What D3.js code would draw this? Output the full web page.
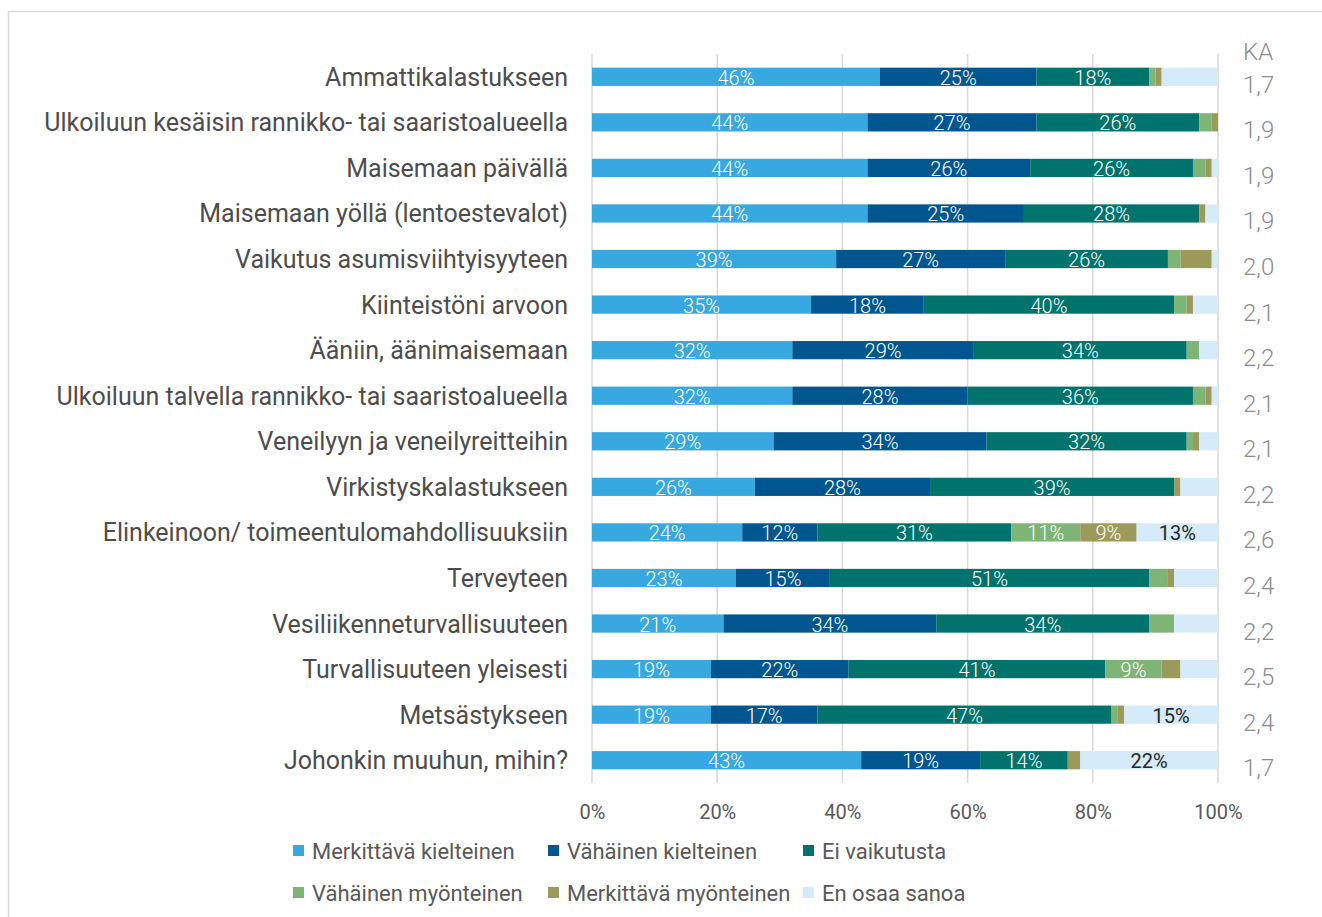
<!DOCTYPE html>
<html>
<head>
<meta charset="utf-8">
<script src="https://cdn.jsdelivr.net/npm/d3@7"></script>
<style>
  body { margin: 0; background: #fff; }
  text { font-family: Roboto, "Noto Sans", sans-serif; }
</style>
</head>
<body>
<div id="chart"></div>
<script>
// categories (top to bottom)
var categories = [
  "Ammattikalastukseen",
  "Ulkoiluun kesäisin rannikko- tai saaristoalueella",
  "Maisemaan päivällä",
  "Maisemaan yöllä (lentoestevalot)",
  "Vaikutus asumisviihtyisyyteen",
  "Kiinteistöni arvoon",
  "Ääniin, äänimaisemaan",
  "Ulkoiluun talvella rannikko- tai saaristoalueella",
  "Veneilyyn ja veneilyreitteihin",
  "Virkistyskalastukseen",
  "Elinkeinoon/ toimeentulomahdollisuuksiin",
  "Terveyteen",
  "Vesiliikenneturvallisuuteen",
  "Turvallisuuteen yleisesti",
  "Metsästykseen",
  "Johonkin muuhun, mihin?"
];

// series values (%)
var merkittavaKielteinen = [46, 44, 44, 44, 39, 35, 32, 32, 29, 26, 24, 23, 21, 19, 19, 43];
var vahainenKielteinen   = [25, 27, 26, 25, 27, 18, 29, 28, 34, 28, 12, 15, 34, 22, 17, 19];
var eiVaikutusta         = [18, 26, 26, 28, 26, 40, 34, 36, 32, 39, 31, 51, 34, 41, 47, 14];
var vahainenMyonteinen   = [1, 2, 2, 0, 2, 2, 2, 2, 1, 0, 11, 3, 4, 9, 1, 0];
var merkittavaMyonteinen = [1, 1, 1, 1, 5, 1, 0, 1, 1, 1, 9, 1, 0, 3, 1, 2];
var enOsaaSanoa          = [9, 0, 1, 2, 1, 4, 3, 1, 3, 6, 13, 7, 7, 6, 15, 22];

// keskiarvo column
var ka = [1.7, 1.9, 1.9, 1.9, 2.0, 2.1, 2.2, 2.1, 2.1, 2.2, 2.6, 2.4, 2.2, 2.5, 2.4, 1.7];

// x tick values
var xTicks = [0, 20, 40, 60, 80, 100];

var seriesNames = ["Merkittävä kielteinen", "Vähäinen kielteinen", "Ei vaikutusta",
  "Vähäinen myönteinen", "Merkittävä myönteinen", "En osaa sanoa"];
var seriesValues = [merkittavaKielteinen, vahainenKielteinen, eiVaikutusta,
  vahainenMyonteinen, merkittavaMyonteinen, enOsaaSanoa];
var colors = ["#37a8e0", "#00568f", "#00736c", "#7fb477", "#9c9a5b", "#d5ebf9"];

// build table rows for the stack
var table = categories.map(function(c, i) {
  var row = { category: c };
  seriesNames.forEach(function(s, j) { row[s] = seriesValues[j][i]; });
  return row;
});

var svgWidth = 1322;
var svgHeight = 917;

var svg = d3.select("#chart")
  .append("svg")
  .attr("width", svgWidth)
  .attr("height", svgHeight);

// light frame
svg.append("rect")
  .attr("x", 8.5)
  .attr("y", 11.5)
  .attr("width", svgWidth)
  .attr("height", svgHeight)
  .attr("fill", "none")
  .attr("stroke", "#d9d9d9")
  .attr("stroke-width", 1.5);

var x = d3.scaleLinear()
  .domain([0, 100])
  .range([592, 1218]);

var y = d3.scaleBand()
  .domain(categories)
  .range([54, 783])
  .paddingInner(0.6)
  .paddingOuter(0.3);

// gridlines
svg.append("g")
  .selectAll("line")
  .data(xTicks)
  .enter()
  .append("line")
  .attr("x1", d => x(d))
  .attr("x2", d => x(d))
  .attr("y1", 54)
  .attr("y2", 783)
  .attr("stroke", "#d9d9d9")
  .attr("stroke-width", 1.5);

// x axis labels
var xAxis = svg.append("g")
  .attr("transform", "translate(0, 796)")
  .call(d3.axisBottom(x).tickValues(xTicks).tickSize(0).tickFormat(d => d + "%"));
xAxis.select(".domain").remove();
xAxis.selectAll("text")
  .attr("dy", "1em")
  .attr("fill", "#595959")
  .style("font-size", "20px")
  .style("font-family", "Roboto, sans-serif");

// stacked bars
var stack = d3.stack().keys(seriesNames);
var stacked = stack(table);

var layers = svg.append("g")
  .selectAll("g")
  .data(stacked)
  .enter()
  .append("g")
  .attr("fill", (d, i) => colors[i]);

layers.selectAll("rect")
  .data(d => d)
  .enter()
  .append("rect")
  .attr("x", d => x(d[0]))
  .attr("y", d => y(d.data.category))
  .attr("width", d => x(d[1]) - x(d[0]))
  .attr("height", y.bandwidth());

// segment labels
layers.each(function(layer, i) {
  d3.select(this).selectAll("text")
    .data(layer.filter(function(d) {
      var v = d[1] - d[0];
      return i === 5 ? v >= 10 : v >= 9;
    }))
    .enter()
    .append("text")
    .attr("x", d => (x(d[0]) + x(d[1])) / 2)
    .attr("y", d => y(d.data.category) + y.bandwidth() / 2 + 8)
    .attr("text-anchor", "middle")
    .attr("fill", i === 5 ? "#262626" : "#ffffff")
    .style("font-size", "20px")
    .style("font-weight", i === 5 ? 400 : 300)
    .text(d => (d[1] - d[0]) + "%");
});

// category labels
svg.append("g")
  .selectAll("text")
  .data(categories)
  .enter()
  .append("text")
  .attr("x", 568)
  .attr("y", d => y(d) + y.bandwidth() / 2 + 9)
  .attr("text-anchor", "end")
  .attr("fill", "#4d4d4d")
  .style("font-size", "25px")
  .text(d => d);

// KA column
svg.append("text")
  .attr("x", 1243)
  .attr("y", 60)
  .attr("fill", "#8c8c8c")
  .style("font-size", "24px")
  .style("font-weight", 300)
  .text("KA");

svg.append("g")
  .selectAll("text")
  .data(ka)
  .enter()
  .append("text")
  .attr("x", 1243)
  .attr("y", (d, i) => y(categories[i]) + y.bandwidth() / 2 + 16)
  .attr("fill", "#8c8c8c")
  .style("font-size", "24px")
  .style("font-weight", 300)
  .text(d => d3.format(".1f")(d).replace(".", ","));

// legend
var legendX = [293, 548, 803];
var legendY = [851, 893];

var legend = svg.append("g")
  .selectAll("g")
  .data(seriesNames)
  .enter()
  .append("g")
  .attr("transform", (d, i) => `translate(${legendX[i % 3]}, ${legendY[Math.floor(i / 3)]})`);

legend.append("rect")
  .attr("x", 0)
  .attr("y", -6)
  .attr("width", 11)
  .attr("height", 11)
  .attr("fill", (d, i) => colors[i]);

legend.append("text")
  .attr("x", 19)
  .attr("y", 8)
  .attr("fill", "#595959")
  .style("font-size", "22px")
  .text(d => d);
</script>
</body>
</html>
